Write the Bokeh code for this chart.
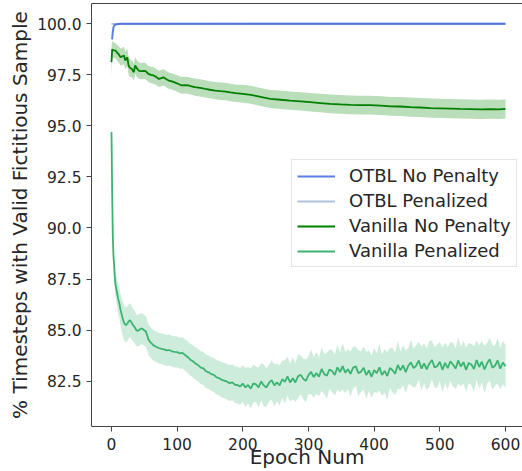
from bokeh.plotting import figure
from bokeh.models import (Range1d, FixedTicker, PrintfTickFormatter, Legend,
                          LegendItem, LinearAxis)
from bokeh.embed import file_html
from bokeh.resources import INLINE

# ---------------- data ----------------
x_ticks = [0, 100, 200, 300, 400, 500, 600]
y_ticks = [82.5, 85.0, 87.5, 90.0, 92.5, 95.0, 97.5, 100.0]

series_names = ["OTBL No Penalty", "OTBL Penalized", "Vanilla No Penalty", "Vanilla Penalized"]
series_colors = ["#4169E1", "#B0C4DE", "#008000", "#3CB371"]

otbl_np_epoch = [0, 1, 2, 3, 4, 5, 6, 8, 10, 15, 20, 50, 100, 200, 300, 400, 500, 600]
otbl_np_mean = [99.25, 99.27, 99.60, 99.82, 99.90, 99.94, 99.96, 99.98, 99.99, 100.0,
                100.0, 100.0, 100.0, 100.0, 100.0, 100.0, 100.0, 100.0]

otbl_pen_epoch = [0, 600]
otbl_pen_mean = [99.99, 100.0]

vnp_epoch = [0, 1, 2, 4, 6, 8, 11, 14, 16, 19,
             21, 24, 26, 28, 31, 34, 36, 39, 42, 46,
             49, 52, 56, 60, 64, 68, 72, 76, 79, 83,
             87, 92, 97, 102, 107, 112, 117, 122, 127, 135,
             143, 150, 158, 166, 174, 181, 189, 200, 212, 227,
             242, 257, 272, 288, 303, 318, 333, 349, 364, 379,
             394, 410, 425, 440, 455, 470, 486, 501, 516, 531,
             547, 562, 577, 590, 600]
vnp_mean = [98.12, 98.75, 98.72, 98.70, 98.69, 98.61, 98.50, 98.36, 98.40, 98.45,
            98.20, 98.36, 97.96, 97.85, 97.79, 97.63, 97.96, 97.80, 97.70, 97.68,
            97.70, 97.68, 97.55, 97.50, 97.47, 97.40, 97.30, 97.34, 97.38, 97.30,
            97.22, 97.18, 97.12, 97.05, 96.98, 97.00, 96.98, 96.94, 96.90, 96.86,
            96.81, 96.77, 96.73, 96.70, 96.68, 96.64, 96.60, 96.57, 96.52, 96.42,
            96.32, 96.28, 96.24, 96.20, 96.16, 96.12, 96.08, 96.05, 96.03, 96.02,
            96.02, 95.99, 95.96, 95.95, 95.92, 95.90, 95.87, 95.86, 95.85, 95.83,
            95.82, 95.81, 95.82, 95.81, 95.83]
vnp_half = [0.70, 0.45, 0.40, 0.38, 0.37, 0.38, 0.40, 0.42, 0.42, 0.43,
            0.43, 0.44, 0.44, 0.43, 0.42, 0.42, 0.41, 0.40, 0.40, 0.40,
            0.40, 0.40, 0.40, 0.40, 0.40, 0.40, 0.40, 0.40, 0.40, 0.40,
            0.40, 0.40, 0.40, 0.41, 0.41, 0.41, 0.41, 0.41, 0.42, 0.42,
            0.42, 0.42, 0.42, 0.43, 0.43, 0.43, 0.43, 0.44, 0.44, 0.44,
            0.44, 0.45, 0.45, 0.45, 0.45, 0.45, 0.46, 0.46, 0.46, 0.46,
            0.46, 0.46, 0.46, 0.47, 0.47, 0.47, 0.47, 0.47, 0.47, 0.47,
            0.47, 0.47, 0.47, 0.47, 0.47]

vp_epoch = ([0, 1, 2, 3, 4, 5, 6] + list(range(8, 61, 2)) + list(range(64, 97, 4))
            + list(range(100, 601, 4)))
vp_mean = [
    # epochs 0..96
    94.70, 91.80, 89.60, 88.60, 88.20, 87.60, 87.25,
    86.90, 86.55, 86.30, 85.95, 85.70, 85.45, 85.30, 85.25, 85.30, 85.42,
    85.48, 85.40, 85.28, 85.20, 85.10, 84.98, 84.96, 85.00, 85.05, 85.08,
    85.04, 84.98, 84.95, 84.78, 84.55, 84.45, 84.38,
    84.25, 84.18, 84.12, 84.08, 84.05, 84.00, 84.02, 83.96, 83.93,
    # epochs 100..196
    83.92, 83.86, 83.88, 83.78, 83.68, 83.55, 83.47, 83.36, 83.28, 83.16,
    83.12, 82.98, 82.93, 82.84, 82.80, 82.68, 82.64, 82.56, 82.52, 82.47,
    82.40, 82.44, 82.32, 82.30, 82.24,
    # epochs 200..600
    82.38, 82.19, 82.31, 82.13, 82.39, 82.34, 82.19, 82.48, 82.28, 82.19,
    82.42, 82.55, 82.29, 82.44, 82.29, 82.59, 82.46, 82.73, 82.43, 82.64,
    82.43, 82.73, 82.81, 82.61, 82.51, 82.79, 82.95, 82.69, 82.90, 82.71,
    83.09, 82.84, 82.76, 83.07, 82.99, 82.80, 83.17, 82.94, 83.23, 82.91,
    83.08, 82.85, 83.16, 83.22, 82.89, 82.96, 83.15, 82.79, 83.02, 82.71,
    83.04, 82.89, 83.17, 82.80, 83.00, 82.75, 83.14, 83.03, 82.86, 83.29,
    83.02, 83.27, 82.94, 83.25, 83.42, 83.13, 83.25, 83.51, 83.11, 83.37,
    83.07, 83.35, 83.53, 83.17, 83.23, 83.45, 83.05, 83.39, 83.13, 83.47,
    83.31, 83.11, 83.51, 83.21, 83.43, 83.05, 83.39, 83.31, 83.09, 83.53,
    83.19, 83.45, 83.07, 83.37, 83.57, 83.15, 83.25, 83.51, 83.11, 83.41,
    83.23]
vp_half = [
    0.80, 0.60, 0.50, 0.50, 0.55, 0.60, 0.62,
    0.66, 0.70, 0.74, 0.78, 0.82, 0.85, 0.86, 0.86, 0.85, 0.84,
    0.83, 0.82, 0.81, 0.80, 0.79, 0.78, 0.78, 0.77, 0.77, 0.76,
    0.76, 0.76, 0.75, 0.75, 0.75, 0.75, 0.75,
    0.75, 0.75, 0.75, 0.76, 0.76, 0.76, 0.76, 0.76, 0.76,
    0.76, 0.76, 0.77, 0.77, 0.78, 0.78, 0.79, 0.79, 0.80, 0.80,
    0.81, 0.82, 0.82, 0.83, 0.84, 0.84, 0.85, 0.86, 0.86, 0.87,
    0.88, 0.88, 0.89, 0.90, 0.90,
    0.90, 0.96, 0.88, 1.00, 0.92, 0.86, 0.98, 0.91, 1.02, 0.94,
    0.89, 0.97, 1.04, 0.92, 0.99, 0.90, 1.06, 0.95, 0.93, 1.03,
    0.96, 1.08, 0.94, 1.00, 1.05, 0.92, 1.10, 0.98, 1.02, 0.95,
    1.07, 0.99, 1.12, 0.96, 1.04, 1.00, 1.09, 0.97, 1.14, 1.01,
    0.98, 1.10, 1.03, 0.96, 1.12, 1.00, 1.06, 1.15, 0.99, 1.04,
    1.08, 0.97, 1.13, 1.02, 1.06, 1.16, 0.98, 1.10, 1.04, 1.18,
    0.92, 0.98, 1.04, 0.90, 1.10, 0.96, 1.00, 0.93, 1.07, 0.98,
    1.02, 1.12, 0.94, 1.00, 1.06, 0.96, 1.10, 0.99, 1.03, 0.95,
    1.08, 1.00, 1.14, 0.97, 1.04, 1.09, 0.98, 1.02, 1.12, 0.96,
    1.06, 1.01, 1.15, 0.99, 1.05, 1.10, 0.98, 1.13, 1.02, 1.07,
    1.04]

assert len(vp_epoch) == len(vp_mean) == len(vp_half)
assert len(vnp_epoch) == len(vnp_mean) == len(vnp_half)

# ---------------- figure ----------------
FONT = "DejaVu Sans"
TXT = "#262626"
SPINE = "#444444"

p = figure(width=522, height=471, output_backend="svg", toolbar_location=None,
           x_range=Range1d(-30.45, 625.9), y_range=Range1d(80.275, 100.995),
           min_border_left=91, min_border_right=0, min_border_top=3,
           min_border_bottom=45)
p.outline_line_color = None
p.grid.visible = False
p.background_fill_color = "white"
p.border_fill_color = "white"

for ax in (p.xaxis[0], p.yaxis[0]):
    ax.axis_line_color = SPINE
    ax.major_tick_line_color = SPINE
    ax.minor_tick_line_color = None
    ax.major_tick_out = 5
    ax.major_tick_in = 0
    ax.major_label_text_font = FONT
    ax.major_label_text_font_size = "15.5px"
    ax.major_label_text_color = TXT
    ax.axis_label_text_font = FONT
    ax.axis_label_text_font_size = "20px"
    ax.axis_label_text_font_style = "normal"
    ax.axis_label_text_color = TXT

p.xaxis.major_label_standoff = 6
p.yaxis.major_label_standoff = 5
p.xaxis.ticker = FixedTicker(ticks=x_ticks)
p.yaxis.ticker = FixedTicker(ticks=y_ticks)
p.yaxis.formatter = PrintfTickFormatter(format="%.1f")
p.yaxis.axis_label = "% Timesteps with Valid Fictitious Sample"
p.yaxis.axis_label_standoff = 2
p.xaxis.axis_label = "Epoch Num"
p.xaxis.axis_label_standoff = -8

top = LinearAxis(ticker=FixedTicker(ticks=[]), axis_line_color=SPINE,
                 major_tick_line_color=None, minor_tick_line_color=None,
                 major_tick_out=0, major_tick_in=0, major_label_standoff=0,
                 axis_label_standoff=0, major_label_text_font_size="0px")
p.add_layout(top, "above")

# bands
p.varea(x=vnp_epoch, y1=[m - h for m, h in zip(vnp_mean, vnp_half)],
        y2=[m + h for m, h in zip(vnp_mean, vnp_half)],
        fill_color=series_colors[2], fill_alpha=0.27)
p.varea(x=vp_epoch, y1=[m - h for m, h in zip(vp_mean, vp_half)],
        y2=[m + h for m, h in zip(vp_mean, vp_half)],
        fill_color=series_colors[3], fill_alpha=0.25)

# lines
r_pen = p.line(otbl_pen_epoch, otbl_pen_mean, line_color=series_colors[1], line_width=2.2)
r_np = p.line(otbl_np_epoch, otbl_np_mean, line_color=series_colors[0], line_width=2.0,
              line_alpha=0.85)
r_vnp = p.line(vnp_epoch, vnp_mean, line_color=series_colors[2], line_width=1.8)
r_vp = p.line(vp_epoch, vp_mean, line_color=series_colors[3], line_width=1.8)

legend = Legend(items=[LegendItem(label=series_names[0], renderers=[r_np]),
                       LegendItem(label=series_names[1], renderers=[r_pen]),
                       LegendItem(label=series_names[2], renderers=[r_vnp]),
                       LegendItem(label=series_names[3], renderers=[r_vp])],
                location=(200, 159))
legend.margin = 0
legend.padding = 5
legend.spacing = 4
legend.glyph_width = 38
legend.glyph_height = 20
legend.label_height = 20
legend.label_standoff = 14
legend.label_text_font = FONT
legend.label_text_font_size = "18px"
legend.label_text_color = TXT
legend.border_line_color = "#cccccc"
legend.background_fill_alpha = 0.85
p.add_layout(legend)

open("out.html", "w").write(file_html(p, INLINE))
